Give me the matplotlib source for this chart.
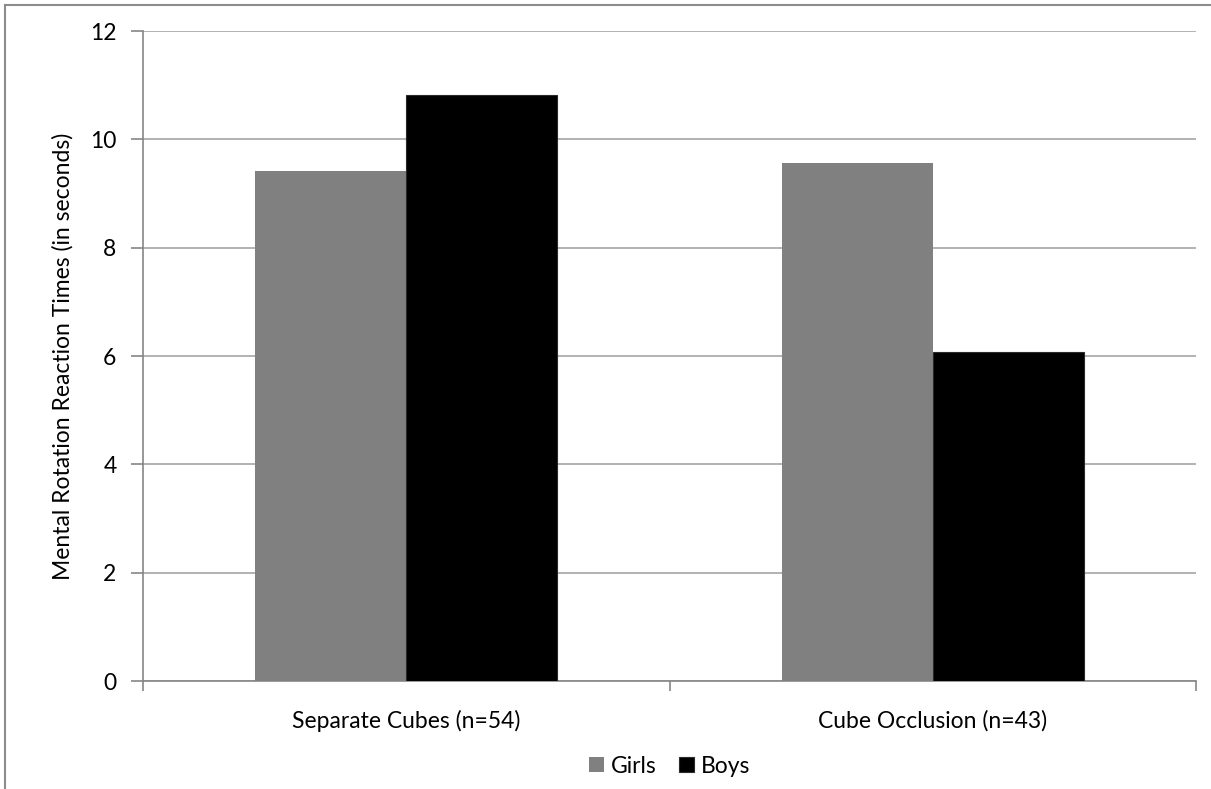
import matplotlib
matplotlib.use("Agg")
import matplotlib.pyplot as plt
import numpy as np

# data
categories = ["Separate Cubes (n=54)", "Cube Occlusion (n=43)"]
series_names = ["Girls", "Boys"]
girls = [9.42, 9.56]
boys = [10.81, 6.08]
y_ticks = [0, 2, 4, 6, 8, 10, 12]

plt.rcParams["font.family"] = ["Lato", "DejaVu Sans"]
fs = 16.5

W, H = 1211, 789
fig = plt.figure(figsize=(W / 100, H / 100), dpi=100)

# outer frame (top and left edges of the chart box)
fig.add_artist(plt.Line2D([5 / W, 5 / W], [0, 1 - 5 / H], color="#8c8c8c", lw=1.5,
                          transform=fig.transFigure))
fig.add_artist(plt.Line2D([5 / W, 1], [1 - 5 / H, 1 - 5 / H], color="#8c8c8c", lw=1.5,
                          transform=fig.transFigure))

left, right, top, bottom = 143, 1196, 31, 681
ax = fig.add_axes([left / W, 1 - bottom / H, (right - left) / W, (bottom - top) / H])

x = np.arange(len(categories))
bw = 0.287
ax.bar(x - bw / 2, girls, bw, color="#808080", label=series_names[0], zorder=3)
ax.bar(x + bw / 2, boys, bw, color="#000000", edgecolor="#2a2a2a", lw=0.8,
       label=series_names[1], zorder=3)

ax.set_xlim(-0.5, 1.5)
ax.set_ylim(0, 12)
ax.set_yticks(y_ticks)
ax.yaxis.grid(True, color="#a6a6a6", lw=1.2, zorder=0)

for s in ["top", "right"]:
    ax.spines[s].set_visible(False)
for s in ["left", "bottom"]:
    ax.spines[s].set_color("#868686")
    ax.spines[s].set_linewidth(1.2)

ax.set_xticks([-0.5, 0.5, 1.5])
ax.set_xticklabels([])
ax.set_xticks(x, minor=True)
ax.set_xticklabels(categories, minor=True, fontsize=fs)
ax.tick_params(axis="x", which="major", direction="out", length=7, color="#868686", width=1.2)
ax.tick_params(axis="x", which="minor", length=0, pad=21)
ax.tick_params(axis="y", direction="out", length=9, color="#868686", width=1.2,
               labelsize=fs, pad=10)

ax.set_ylabel("Mental Rotation Reaction Times (in seconds)", fontsize=fs, labelpad=12)

ax.legend(loc="upper center", bbox_to_anchor=(0.5, -0.083), ncol=2, frameon=False,
          fontsize=fs, handlelength=0.65, handleheight=0.65, handletextpad=0.3,
          columnspacing=1.0)

fig.savefig("out.png", dpi=100)
